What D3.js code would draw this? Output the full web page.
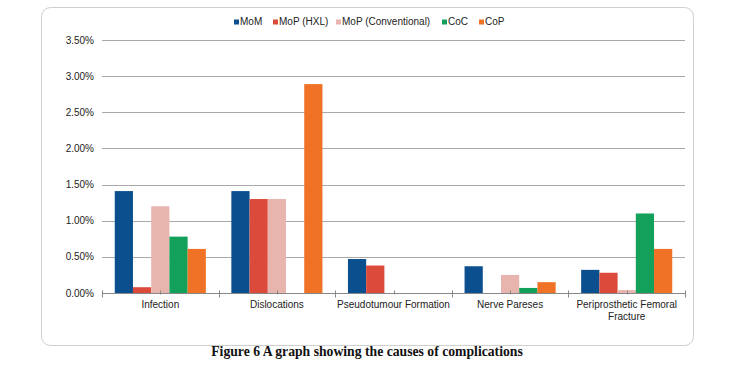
<!DOCTYPE html>
<html>
<head>
<meta charset="utf-8">
<script src="https://cdn.jsdelivr.net/npm/d3@7"></script>
<style>
  body { margin: 0; background: #fff; }
  svg { display: block; }
</style>
</head>
<body>
<svg id="chart" width="755" height="372"></svg>
<script>
// categories and series (percent values)
const categories = ["Infection", "Dislocations", "Pseudotumour Formation", "Nerve Pareses", "Periprosthetic Femoral Fracture"];
const seriesNames = ["MoM", "MoP (HXL)", "MoP (Conventional)", "CoC", "CoP"];
const seriesColors = ["#0b4f8f", "#dc4a3b", "#e8b5ae", "#12a05b", "#f07226"];

const mom = [1.41, 1.41, 0.47, 0.37, 0.32];
const mopHxl = [0.08, 1.30, 0.38, 0, 0.28];
const mopConv = [1.20, 1.30, 0, 0.25, 0.04];
const coc = [0.78, 0, 0, 0.07, 1.10];
const cop = [0.61, 2.89, 0, 0.15, 0.61];

const yTicks = [0, 0.5, 1, 1.5, 2, 2.5, 3, 3.5];

const values = [mom, mopHxl, mopConv, coc, cop];

const svg = d3.select('#chart');

// frame
svg.append('rect')
  .attr('x', 41.5).attr('y', 7.5)
  .attr('width', 652).attr('height', 338)
  .attr('rx', 9).attr('ry', 9)
  .attr('fill', 'none')
  .attr('stroke', '#cfcfcf');

const margin = { left: 102, right: 685, top: 40, bottom: 293 };

const x = d3.scaleBand()
  .domain(categories)
  .range([margin.left, margin.right]);

const xInner = d3.scaleBand()
  .domain(seriesNames)
  .range([0, x.bandwidth()])
  .paddingOuter(0.7)
  .paddingInner(0);

const y = d3.scaleLinear()
  .domain([0, 3.5])
  .range([margin.bottom, margin.top]);

// grid lines
svg.append('g')
  .selectAll('line')
  .data(yTicks.slice(1))
  .join('line')
  .attr('x1', margin.left).attr('x2', margin.right)
  .attr('y1', d => Math.round(y(d)) + 0.5)
  .attr('y2', d => Math.round(y(d)) + 0.5)
  .attr('stroke', '#a9a9a9');

// y labels
svg.append('g')
  .selectAll('text')
  .data(yTicks)
  .join('text')
  .attr('x', 94)
  .attr('y', d => y(d) + 3.5)
  .attr('text-anchor', 'end')
  .attr('font-family', 'Liberation Sans, Arial, sans-serif')
  .attr('font-size', 10)
  .attr('fill', '#222')
  .text(d => d3.format('.2f')(d) + '%');

// bars
const groups = svg.append('g')
  .selectAll('g')
  .data(categories)
  .join('g')
  .attr('transform', d => `translate(${x(d)},0)`);

groups.selectAll('rect')
  .data((c, ci) => seriesNames.map((s, si) => ({ s, v: values[si][ci], color: seriesColors[si] })))
  .join('rect')
  .attr('x', d => xInner(d.s))
  .attr('width', xInner.bandwidth())
  .attr('y', d => y(d.v))
  .attr('height', d => y(0) - y(d.v))
  .attr('fill', d => d.color);

// baseline + ticks
const base = Math.round(y(0)) + 0.5;
svg.append('line')
  .attr('x1', margin.left).attr('x2', margin.right)
  .attr('y1', base).attr('y2', base)
  .attr('stroke', '#888');

const bounds = categories.map(c => x(c)).concat([margin.right]);
svg.append('g')
  .selectAll('line')
  .data(bounds)
  .join('line')
  .attr('x1', d => Math.round(d) + 0.5).attr('x2', d => Math.round(d) + 0.5)
  .attr('y1', base - 3).attr('y2', base + 4)
  .attr('stroke', '#888');

svg.append('g')
  .selectAll('line')
  .data(categories)
  .join('line')
  .attr('x1', d => Math.round(x(d) + x.bandwidth() / 2) + 0.5)
  .attr('x2', d => Math.round(x(d) + x.bandwidth() / 2) + 0.5)
  .attr('y1', base - 3).attr('y2', base + 1)
  .attr('stroke', '#888');

// x labels
const xLabels = svg.append('g')
  .selectAll('text')
  .data(categories)
  .join('text')
  .attr('x', d => x(d) + x.bandwidth() / 2)
  .attr('y', 308)
  .attr('text-anchor', 'middle')
  .attr('font-family', 'Liberation Sans, Arial, sans-serif')
  .attr('font-size', 10)
  .attr('fill', '#222');

xLabels.each(function (d) {
  const t = d3.select(this);
  const lines = d === "Periprosthetic Femoral Fracture" ? ["Periprosthetic Femoral", "Fracture"] : [d];
  lines.forEach((l, i) => {
    t.append('tspan')
      .attr('x', x(d) + x.bandwidth() / 2)
      .attr('dy', i === 0 ? 0 : 11.5)
      .text(l);
  });
});

// legend
const legendX = [234, 273, 336, 442, 479];
const legend = svg.append('g')
  .selectAll('g')
  .data(seriesNames)
  .join('g')
  .attr('transform', (d, i) => `translate(${legendX[i]},19.5)`);

legend.append('rect')
  .attr('width', 5).attr('height', 5)
  .attr('y', 0)
  .attr('fill', (d, i) => seriesColors[i]);

legend.append('text')
  .attr('x', 6).attr('y', 5.5)
  .attr('font-family', 'Liberation Sans, Arial, sans-serif')
  .attr('font-size', 10)
  .attr('fill', '#222')
  .text(d => d);

// caption
svg.append('text')
  .attr('x', 367).attr('y', 356)
  .attr('text-anchor', 'middle')
  .attr('font-family', 'Liberation Serif, Times New Roman, serif')
  .attr('font-weight', 'bold')
  .attr('font-size', 13.7)
  .attr('fill', '#111')
  .text('Figure 6 A graph showing the causes of complications');
</script>
</body>
</html>
